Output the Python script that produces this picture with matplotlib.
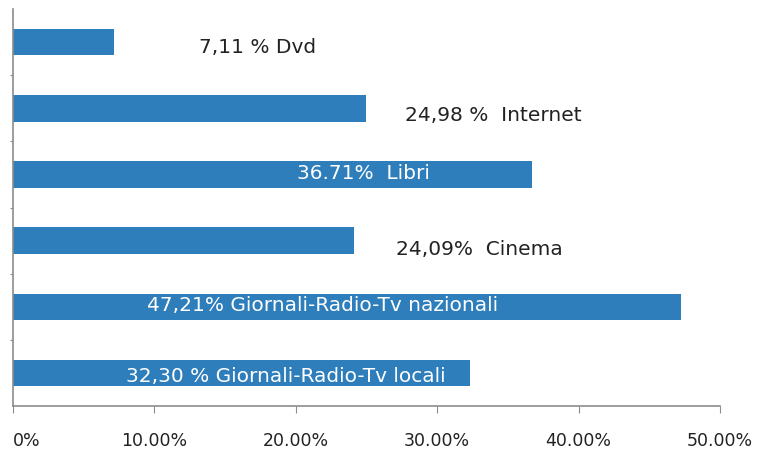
import matplotlib.pyplot as plt

# dati (dall'alto in basso)
categorie = ['Dvd', 'Internet', 'Libri', 'Cinema',
             'Giornali-Radio-Tv nazionali', 'Giornali-Radio-Tv locali']
valori = [7.11, 24.98, 36.71, 24.09, 47.21, 32.30]
etichette = ['7,11 % Dvd', '24,98 %  Internet', '36.71%  Libri', '24,09%  Cinema',
             '47,21% Giornali-Radio-Tv nazionali', '32,30 % Giornali-Radio-Tv locali']
tick_valori = [0, 10, 20, 30, 40, 50]
tick_etichette = ['0%', '10.00%', '20.00%', '30.00%', '40.00%', '50.00%']

# posizione delle etichette (centro x in %, spostamento y) e colore
pos_x = [17.3, 34.0, 24.75, 33.0, 21.9, 19.3]
dy = [0.06, 0.09, -0.03, 0.12, -0.03, 0.04]
colori_testo = ['#222222', '#222222', 'white', '#222222', 'white', 'white']

plt.rcParams['font.family'] = 'DejaVu Sans'

fig = plt.figure(figsize=(7.66, 4.52), dpi=100)
ax = fig.add_axes([0.017, 0.0996, 0.923, 0.878])

y = list(range(len(categorie)))
ax.barh(y, valori, height=0.4, color='#2E7EBB')

for i in y:
    ax.text(pos_x[i], i + dy[i], etichette[i], ha='center', va='center',
            fontsize=14.5, color=colori_testo[i])

ax.set_xlim(0, 50)
ax.set_ylim(len(categorie) - 0.5, -0.5)
ax.set_xticks(tick_valori)
ax.set_xticklabels(tick_etichette, fontsize=12.5, color='#222222')
ax.get_xticklabels()[0].set_horizontalalignment('left')
ax.set_yticks([i + 0.5 for i in y[:-1]])
ax.set_yticklabels([])
ax.tick_params(axis='x', length=5, color='#8c8c8c', pad=13)
ax.tick_params(axis='y', length=2, color='#8c8c8c')

for lato in ['top', 'right']:
    ax.spines[lato].set_visible(False)
for lato in ['left', 'bottom']:
    ax.spines[lato].set_color('#8c8c8c')
    ax.spines[lato].set_linewidth(1.2)

plt.savefig('out.png', dpi=100)
